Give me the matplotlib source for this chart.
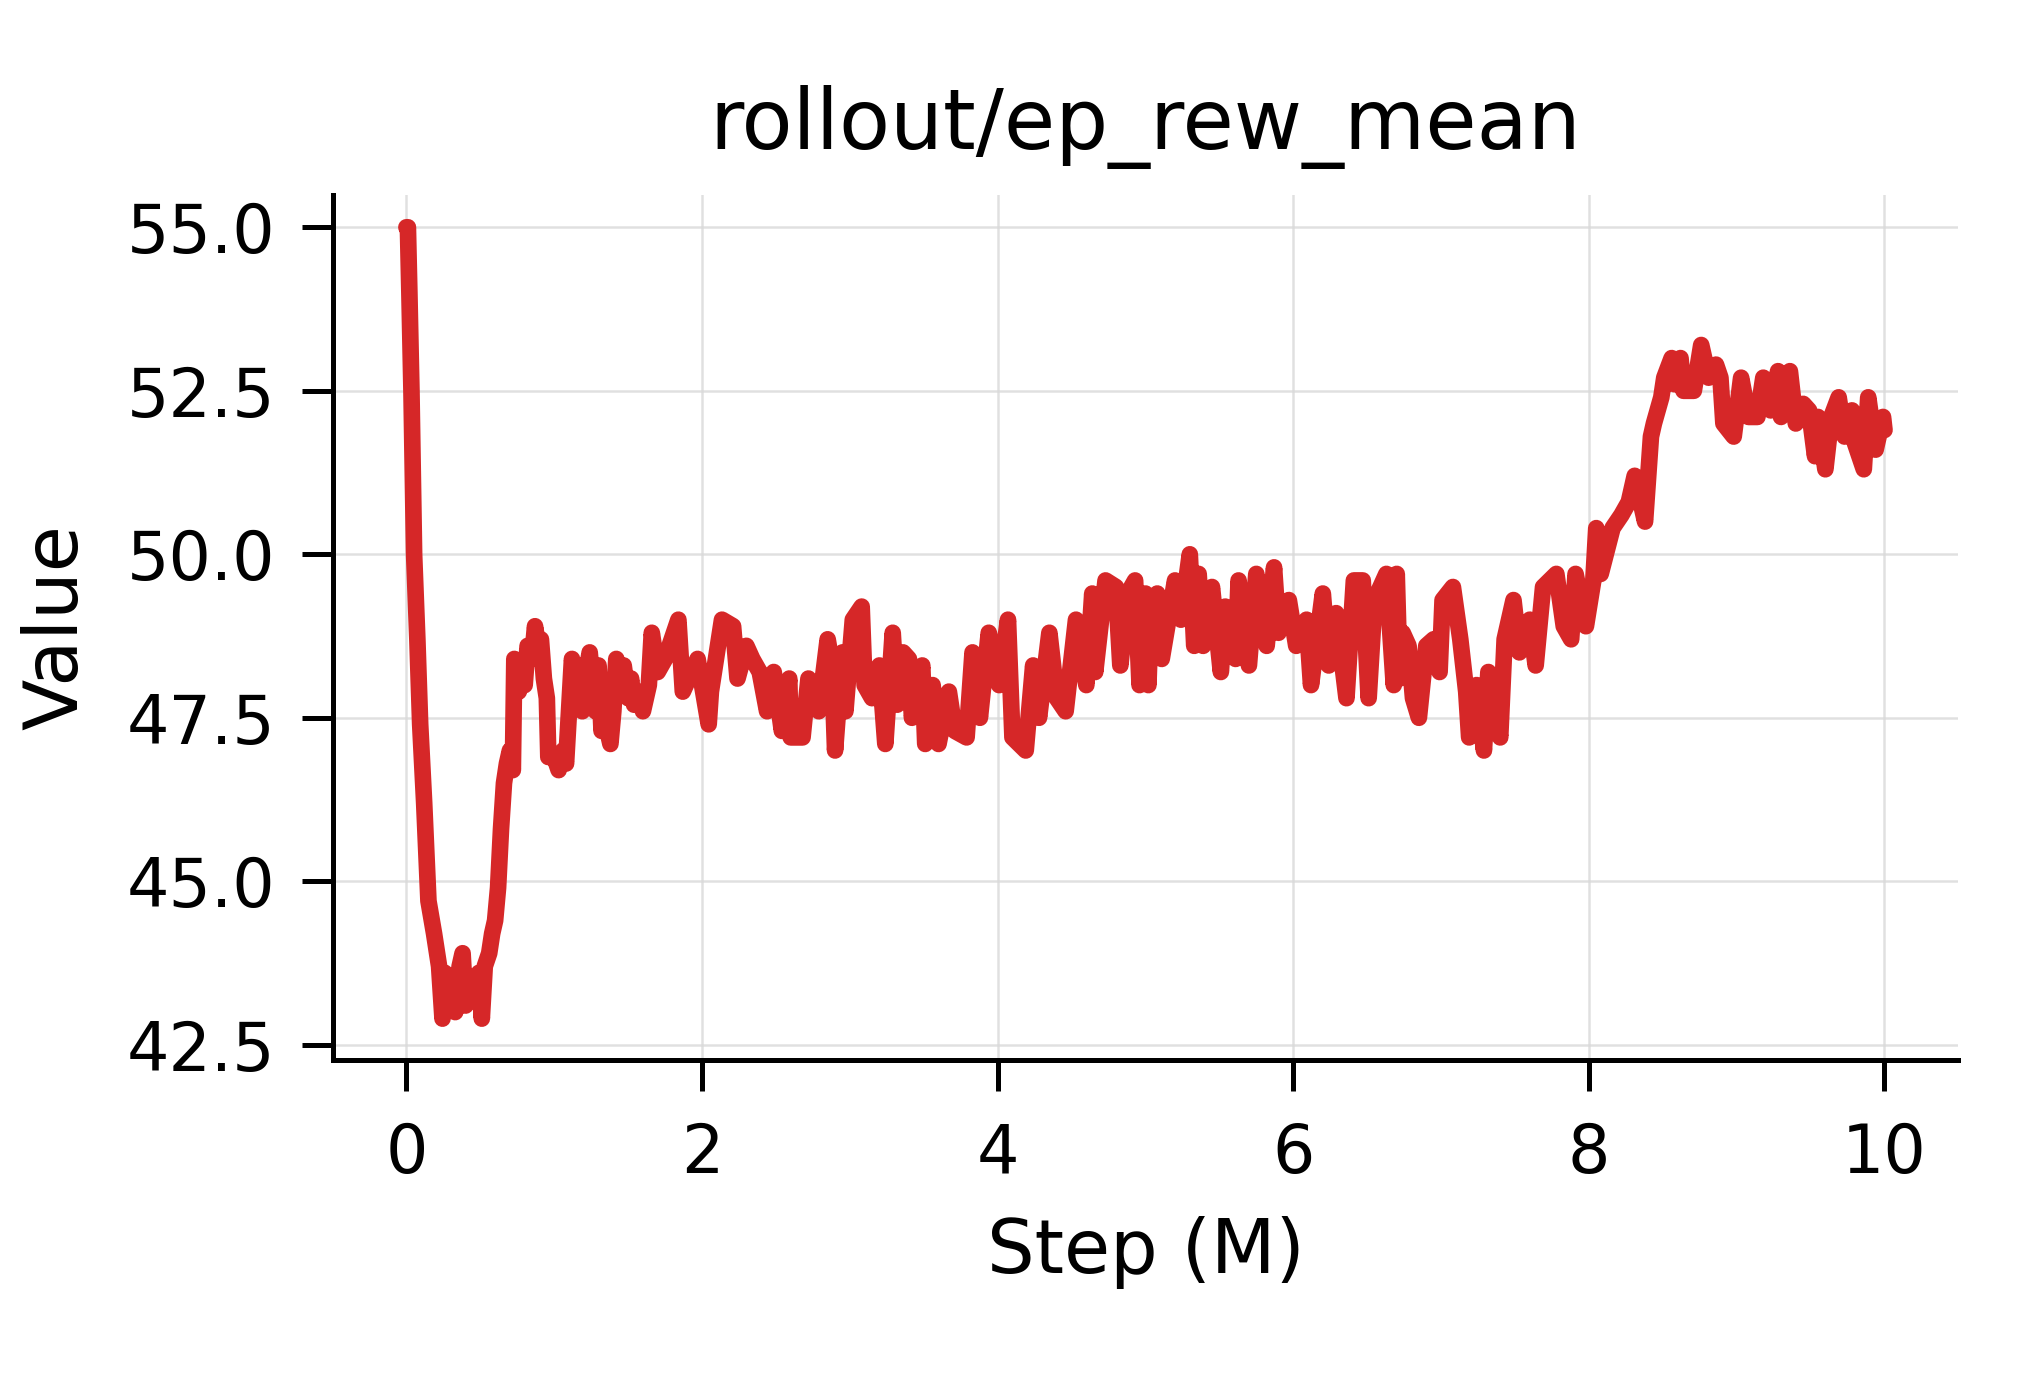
import matplotlib
matplotlib.use("Agg")
import matplotlib.pyplot as plt

# (step in millions, reward)
curve = [
    # initial drop
    (0.00, 55.0), (0.01, 55.0), (0.02, 54.0), (0.034, 52.5), (0.052, 50.0),
    (0.074, 48.7), (0.093, 47.4), (0.12, 46.2), (0.149, 44.7), (0.187, 44.2),
    (0.221, 43.7), (0.244, 42.9),
    # bottom and recovery
    (0.26, 43.6), (0.28, 43.1), (0.30, 43.5), (0.33, 43.0), (0.36, 43.7),
    (0.38, 43.9), (0.40, 43.1), (0.43, 43.5), (0.46, 43.2), (0.49, 43.6),
    (0.51, 42.9), (0.53, 43.7), (0.56, 43.9), (0.58, 44.2), (0.60, 44.4),
    (0.62, 44.9), (0.64, 45.8), (0.66, 46.5), (0.68, 46.8), (0.70, 47.0),
    (0.72, 46.7),
    # plateau 0.7 - 1.6
    (0.73, 48.4), (0.76, 47.9), (0.78, 48.3), (0.80, 48.0), (0.82, 48.6),
    (0.85, 48.4), (0.87, 48.9), (0.89, 48.6), (0.91, 48.7), (0.93, 48.1),
    (0.95, 47.8), (0.96, 46.9), (1.00, 46.9), (1.03, 46.7), (1.06, 47.0),
    (1.08, 46.8), (1.10, 47.6), (1.12, 48.4), (1.15, 48.0), (1.17, 48.3),
    (1.19, 47.6), (1.21, 48.1), (1.24, 48.5), (1.26, 48.0), (1.28, 47.6),
    (1.30, 48.3), (1.32, 47.3), (1.34, 47.8), (1.36, 47.3), (1.38, 47.1),
    (1.40, 47.6), (1.42, 48.4), (1.45, 47.9), (1.47, 48.3), (1.50, 47.8),
    (1.52, 48.1), (1.54, 47.7), (1.57, 47.9), (1.60, 47.6),
    # 1.6 - 3.3
    (1.64, 48.0), (1.66, 48.8), (1.70, 48.2), (1.75, 48.4), (1.84, 49.0),
    (1.87, 47.9), (1.93, 48.2), (1.97, 48.4), (2.045, 47.4), (2.06, 47.9),
    (2.135, 49.0), (2.21, 48.9), (2.24, 48.1), (2.30, 48.6), (2.34, 48.4),
    (2.39, 48.2), (2.44, 47.6), (2.485, 48.2), (2.54, 47.3), (2.59, 48.1),
    (2.60, 47.2), (2.68, 47.2), (2.72, 48.1), (2.79, 47.6), (2.85, 48.7),
    (2.88, 48.3), (2.90, 47.0), (2.95, 48.5), (2.97, 47.6), (3.02, 49.0),
    (3.08, 49.2), (3.10, 48.0), (3.15, 47.8), (3.20, 48.3), (3.24, 47.1),
    (3.29, 48.8), (3.32, 47.7),
    # 3.3 - 5.0
    (3.36, 48.5), (3.40, 48.4), (3.42, 47.5), (3.49, 48.3), (3.51, 47.1),
    (3.56, 48.0), (3.60, 47.1), (3.67, 47.9), (3.71, 47.3), (3.79, 47.2),
    (3.83, 48.5), (3.88, 47.5), (3.94, 48.8), (4.01, 48.0), (4.07, 49.0),
    (4.10, 47.2), (4.19, 47.0), (4.24, 48.3), (4.28, 47.5), (4.35, 48.8),
    (4.40, 47.8), (4.46, 47.6), (4.53, 49.0), (4.60, 48.0), (4.64, 49.4),
    (4.66, 48.2), (4.73, 49.6), (4.80, 49.5), (4.83, 48.3), (4.88, 49.4),
    (4.93, 49.6), (4.96, 48.0),
    # 5.0 - 6.7
    (5.00, 49.4), (5.02, 48.0), (5.04, 49.3), (5.08, 49.4), (5.11, 48.4),
    (5.20, 49.6), (5.24, 49.0), (5.30, 50.0), (5.33, 48.6), (5.36, 49.7),
    (5.39, 48.6), (5.45, 49.5), (5.51, 48.2), (5.54, 49.2), (5.61, 48.4),
    (5.63, 49.6), (5.70, 48.3), (5.75, 49.7), (5.82, 48.6), (5.87, 49.8),
    (5.90, 48.8), (5.97, 49.3), (6.02, 48.6), (6.09, 49.0), (6.12, 48.0),
    (6.20, 49.4), (6.24, 48.3), (6.29, 49.1), (6.36, 47.8), (6.41, 49.6),
    (6.47, 49.6), (6.51, 47.8), (6.55, 49.3), (6.63, 49.7), (6.68, 48.0),
    # 6.7 - 8.3
    (6.70, 49.7), (6.72, 48.1), (6.74, 48.8), (6.78, 48.6), (6.81, 47.8),
    (6.85, 47.5), (6.90, 48.6), (6.95, 48.7), (6.99, 48.2), (7.01, 49.3),
    (7.08, 49.5), (7.13, 48.7), (7.17, 47.9), (7.19, 47.2), (7.24, 48.0),
    (7.29, 47.0), (7.32, 48.2), (7.40, 47.2), (7.43, 48.7), (7.49, 49.3),
    (7.53, 48.5), (7.60, 49.0), (7.64, 48.3), (7.69, 49.5), (7.78, 49.7),
    (7.83, 48.9), (7.88, 48.7), (7.91, 49.7), (7.98, 48.9), (8.03, 49.6),
    (8.05, 50.4), (8.08, 49.7), (8.16, 50.4), (8.22, 50.6), (8.27, 50.8),
    (8.31, 51.2),
    # 8.3 - 10
    (8.35, 50.8), (8.38, 50.5), (8.42, 51.8), (8.44, 52.0), (8.49, 52.4),
    (8.51, 52.7), (8.56, 53.0), (8.58, 52.6), (8.62, 53.0), (8.64, 52.5),
    (8.71, 52.5), (8.76, 53.2), (8.81, 52.7), (8.86, 52.9), (8.89, 52.7),
    (8.91, 52.0), (8.98, 51.8), (9.03, 52.7), (9.08, 52.1), (9.14, 52.1),
    (9.18, 52.7), (9.23, 52.2), (9.28, 52.8), (9.30, 52.1), (9.36, 52.8),
    (9.40, 52.0), (9.45, 52.3), (9.49, 52.2), (9.53, 51.5), (9.55, 52.1),
    (9.60, 51.3), (9.64, 52.1), (9.69, 52.4), (9.73, 51.8), (9.78, 52.2),
    (9.80, 51.7), (9.86, 51.3), (9.89, 52.4), (9.94, 51.6), (9.99, 52.1),
    (10.00, 51.9),
]
steps = [p[0] for p in curve]
reward = [p[1] for p in curve]

x_ticks = [0, 2, 4, 6, 8, 10]
y_ticks = [42.5, 45.0, 47.5, 50.0, 52.5, 55.0]

fig, ax = plt.subplots(figsize=(6.8, 4.6), dpi=300)
fig.patch.set_facecolor("white")
fig.subplots_adjust(left=0.163, right=0.96, bottom=0.232, top=0.859)

ax.plot(steps, reward, color="#d62728", linewidth=4.0,
        solid_joinstyle="round", solid_capstyle="round")

ax.set_xlim(-0.5, 10.5)
ax.set_ylim(42.27, 55.5)
ax.set_xticks(x_ticks)
ax.set_yticks(y_ticks)

ax.grid(True, color="#d9d9d9", linewidth=0.6, alpha=0.8)
ax.set_axisbelow(True)

for side in ["top", "right"]:
    ax.spines[side].set_visible(False)
for side in ["left", "bottom"]:
    ax.spines[side].set_linewidth(1.2)

ax.tick_params(axis="both", labelsize=16, length=7.5, width=1.2)
ax.tick_params(axis="x", pad=7.2)
ax.tick_params(axis="y", pad=6.2)

ax.set_title("rollout/ep_rew_mean", fontsize=20, pad=11)
ax.set_xlabel("Step (M)", fontsize=18, labelpad=7)
ax.set_ylabel("Value", fontsize=18, labelpad=8)

plt.savefig("out.png", dpi=300)
plt.close()
